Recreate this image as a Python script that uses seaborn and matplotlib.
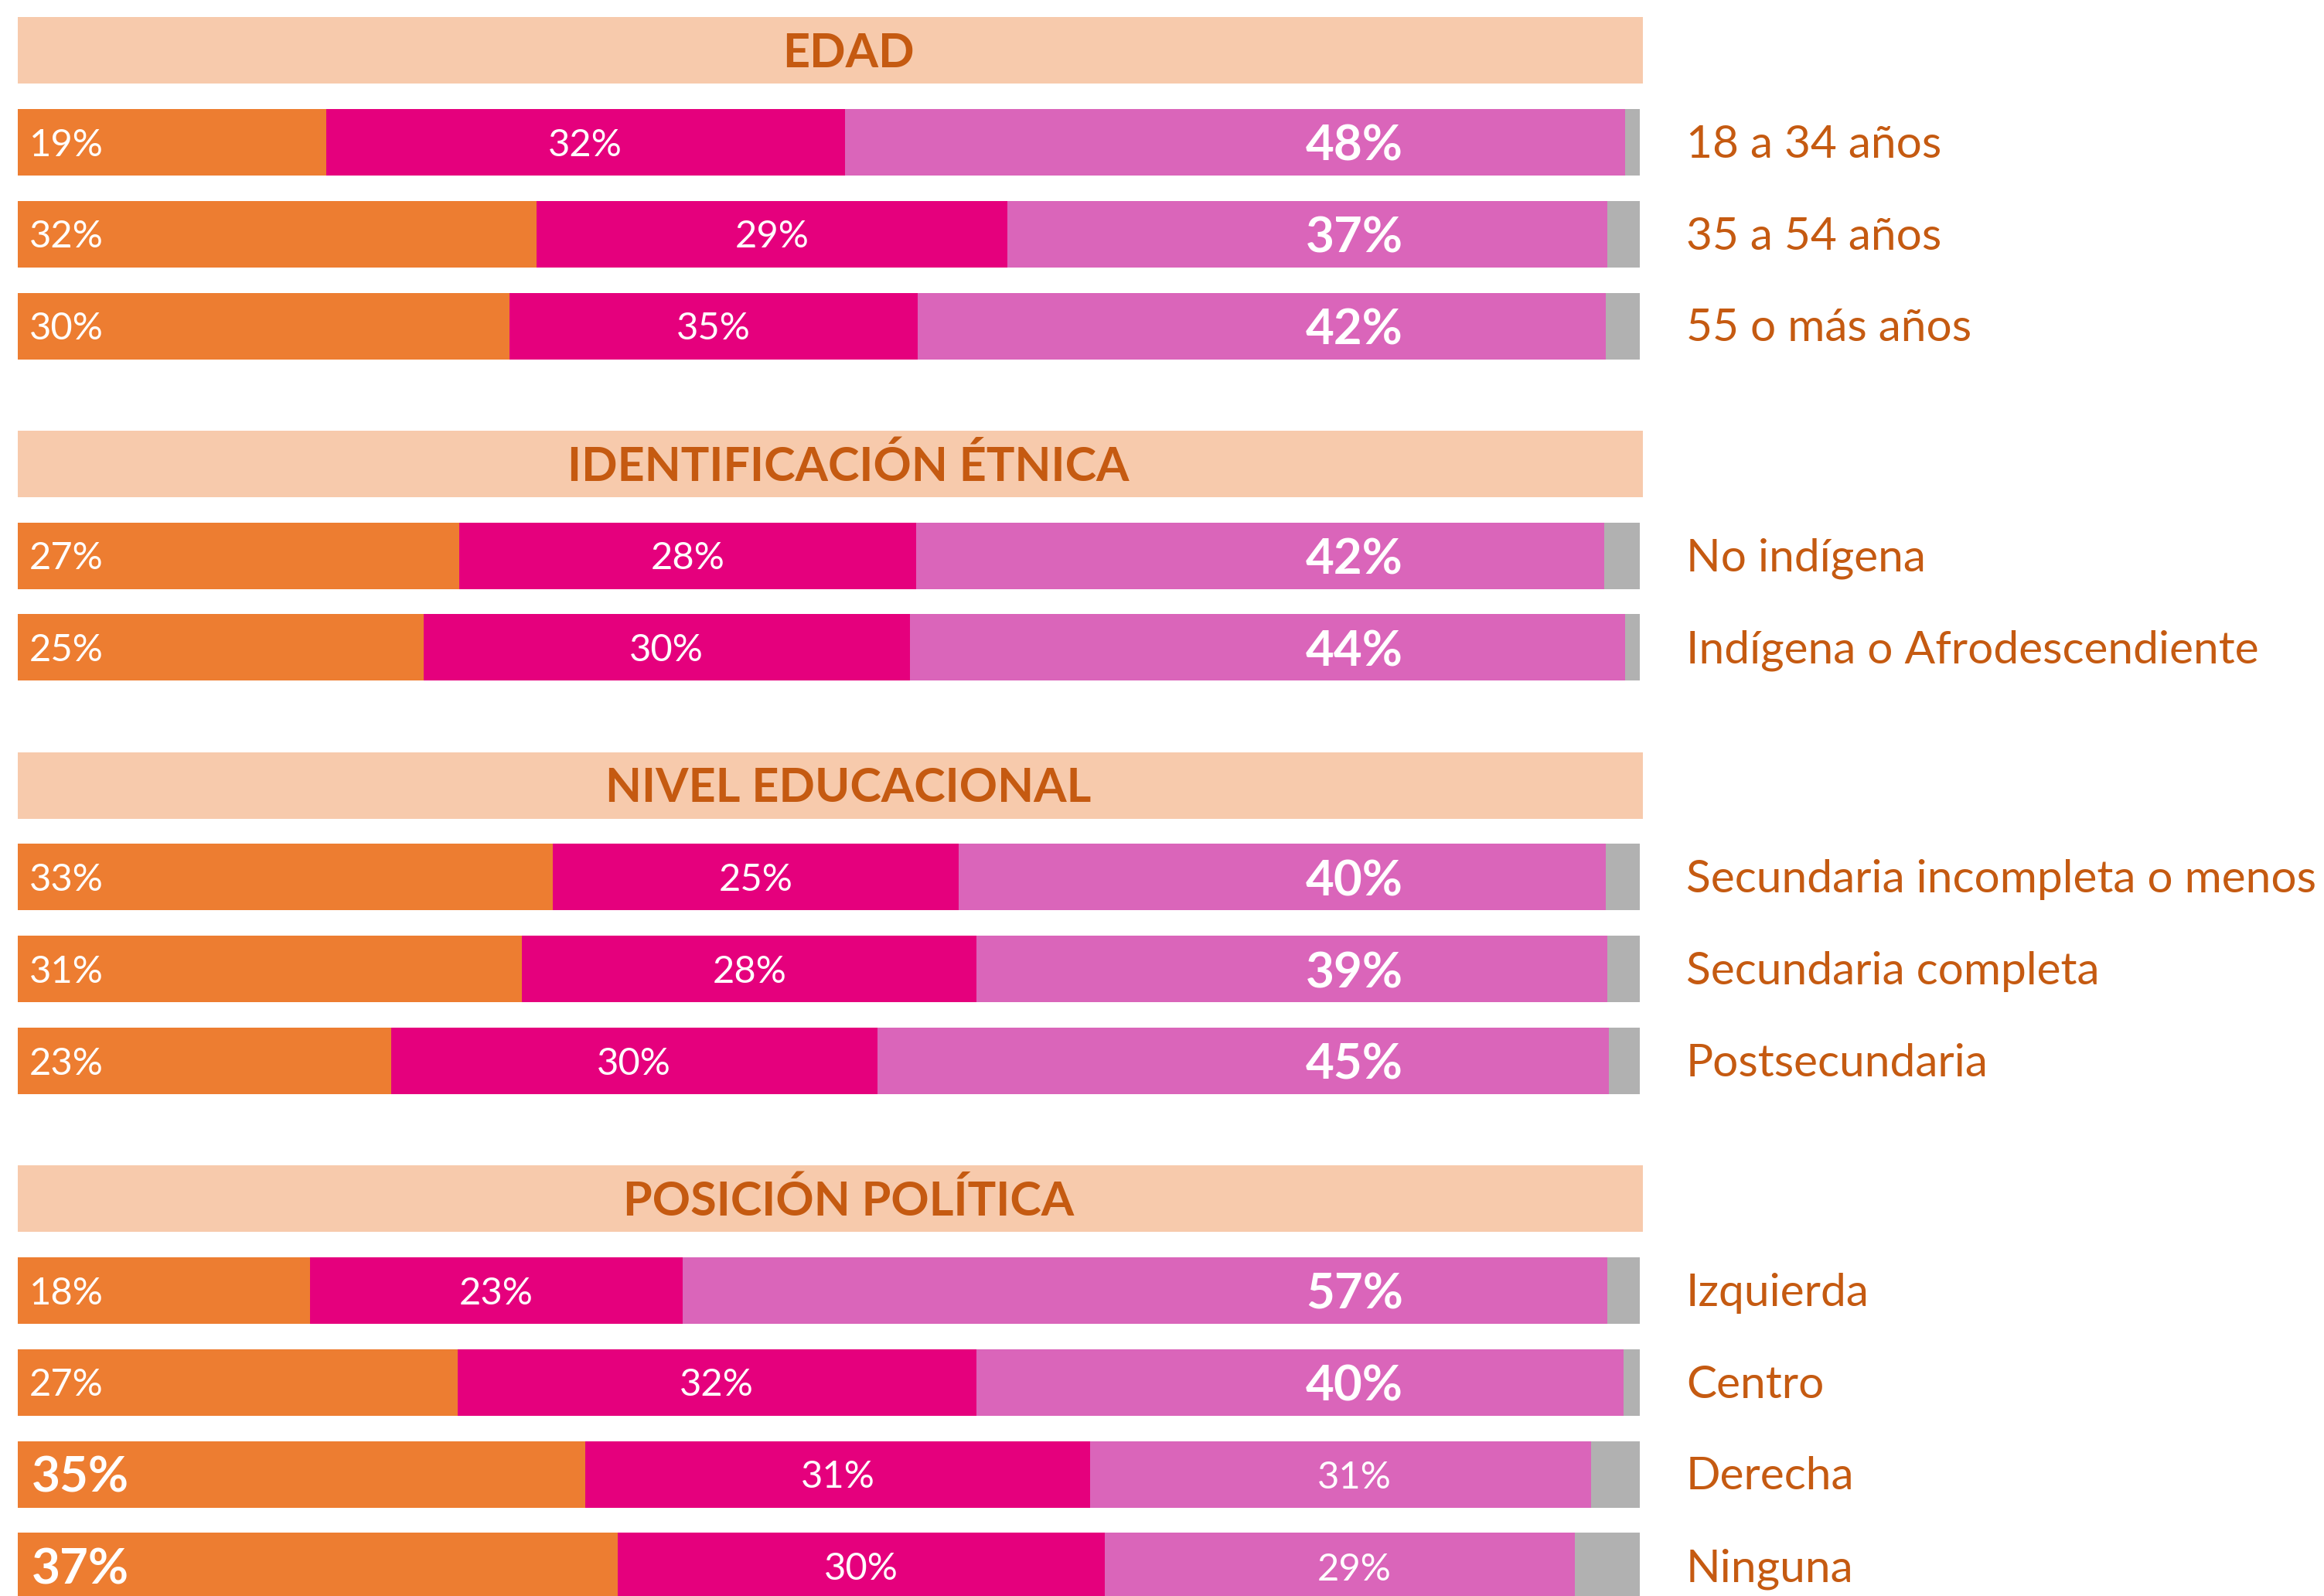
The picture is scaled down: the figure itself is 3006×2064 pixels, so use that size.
import matplotlib
matplotlib.use("Agg")
import matplotlib.pyplot as plt
import seaborn as sns
import pandas as pd
import numpy as np

# ---------------- data ----------------
groups = ["EDAD", "IDENTIFICACIÓN ÉTNICA", "NIVEL EDUCACIONAL", "POSICIÓN POLÍTICA"]
group_sizes = [3, 2, 3, 4]
categories = ["18 a 34 años", "35 a 54 años", "55 o más años",
              "No indígena", "Indígena o Afrodescendiente",
              "Secundaria incompleta o menos", "Secundaria completa", "Postsecundaria",
              "Izquierda", "Centro", "Derecha", "Ninguna"]
# segment widths as drawn (percent of bar)
orange_vals = [19.0, 32.0, 30.3, 27.2, 25.0, 33.0, 31.1, 23.0, 18.0, 27.1, 35.0, 37.0]
pink_vals   = [32.0, 29.0, 25.2, 28.2, 30.0, 25.0, 28.0, 30.0, 23.0, 32.0, 31.1, 30.0]
light_vals  = [48.1, 37.0, 42.4, 42.4, 44.1, 39.9, 38.9, 45.1, 57.0, 39.9, 30.9, 29.0]
# printed labels
orange_lbl = ["19%", "32%", "30%", "27%", "25%", "33%", "31%", "23%", "18%", "27%", "35%", "37%"]
pink_lbl   = ["32%", "29%", "35%", "28%", "30%", "25%", "28%", "30%", "23%", "32%", "31%", "30%"]
light_lbl  = ["48%", "37%", "42%", "42%", "44%", "40%", "39%", "45%", "57%", "40%", "31%", "29%"]

# ---------------- style ----------------
C_ORANGE = "#ED7D31"
C_PINK = "#E5007D"
C_LIGHT = "#DA65BA"
C_GRAY = "#B1B1B1"
C_HEAD = "#F7CAAC"
C_TEXT = "#C55A11"

sns.set_theme(style="white")
plt.rcParams["font.family"] = ["Lato", "DejaVu Sans"]

DPI = 200
FIG_W, FIG_H = 15.03, 10.32

# ---------------- layout positions ----------------
row_pos = []
head_pos = []
y = 0.0
for gi, n in enumerate(group_sizes):
    head_pos.append(y)
    for k in range(n):
        y += 1
        row_pos.append(y)
    y += 1.5

n = len(categories)
o = np.array(orange_vals)
p = np.array(pink_vals)
l = np.array(light_vals)
df = pd.DataFrame({
    "pos": row_pos,
    "total": np.full(n, 100.0),
    "c3": o + p + l,
    "c2": o + p,
    "c1": o,
})
hdf = pd.DataFrame({"pos": head_pos, "w": [100.2] * len(head_pos)})

fig = plt.figure(figsize=(FIG_W, FIG_H), dpi=DPI)
ax = fig.add_axes([0, 0, 1, 1])

BW = 0.724
row_step = np.min(np.diff(sorted(row_pos)))
head_step = np.min(np.diff(sorted(head_pos)))
sns.barplot(data=hdf, x="w", y="pos", orient="h", native_scale=True,
            color=C_HEAD, saturation=1, width=BW / head_step, ax=ax, linewidth=0)
for col, c in [("total", C_GRAY), ("c3", C_LIGHT), ("c2", C_PINK), ("c1", C_ORANGE)]:
    sns.barplot(data=df, x=col, y="pos", orient="h", native_scale=True,
                color=c, saturation=1, width=BW / row_step, ax=ax, linewidth=0)

YMIN, YMAX = -0.549, 16.825
ax.set_xlim(-1.096, 142.18)
ax.set_ylim(YMAX, YMIN)
ax.axis("off")

FS_REG = 17.6
FS_BOLD = 22.9
FS_CAT = 21.1
FS_HEAD = 22.0

px_per_unit = FIG_H * DPI / (YMAX - YMIN)
CAP = 0.7165

def half_cap(fs):
    return CAP * fs * DPI / 72.0 / px_per_unit / 2.0

def num(s):
    return int(s.rstrip("%"))

for i in range(n):
    yy = row_pos[i]
    labs = [orange_lbl[i], pink_lbl[i], light_lbl[i]]
    vals = [num(s) for s in labs]
    big = int(np.argmax(vals))
    fs = [FS_BOLD if big == k else FS_REG for k in range(3)]
    fw = ["bold" if big == k else "normal" for k in range(3)]
    ax.text(0.85 if big == 0 else 0.7, yy + half_cap(fs[0]), orange_lbl[i],
            ha="left", va="baseline", color="white", fontsize=fs[0], fontweight=fw[0])
    ax.text(o[i] + p[i] / 2, yy + half_cap(fs[1]), pink_lbl[i],
            ha="center", va="baseline", color="white", fontsize=fs[1], fontweight=fw[1])
    ax.text(82.4, yy + half_cap(fs[2]) + 0.01, light_lbl[i],
            ha="center", va="baseline", color="white", fontsize=fs[2], fontweight=fw[2])
    ax.text(102.85, yy + half_cap(FS_CAT) - 0.01, categories[i],
            ha="left", va="baseline", color=C_TEXT, fontsize=FS_CAT)

for g, hp in zip(groups, head_pos):
    ax.text(51.2, hp + half_cap(FS_HEAD), g, ha="center", va="baseline", color=C_TEXT,
            fontsize=FS_HEAD, fontweight="bold")

fig.savefig("out.png", dpi=DPI)
